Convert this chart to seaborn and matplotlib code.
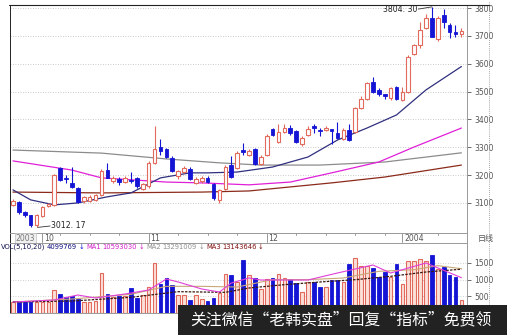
import numpy as np
import matplotlib
matplotlib.use("Agg")
import matplotlib.pyplot as plt
from matplotlib.patches import Rectangle
from matplotlib.lines import Line2D
import seaborn as sns

# ---------------- data ----------------
opens = [3093, 3103, 3068, 3055, 3022, 3052, 3090, 3093, 3225, 3190,
         3172, 3154, 3106, 3108, 3112, 3128, 3218, 3180, 3185, 3175,
         3182, 3188, 3150, 3160, 3245, 3302, 3292, 3262, 3198, 3212,
         3222, 3172, 3178, 3190, 3168, 3110, 3150, 3235, 3225, 3290,
         3272, 3295, 3240, 3272, 3365, 3320, 3355, 3368, 3360, 3310,
         3345, 3375, 3362, 3362, 3365, 3350, 3330, 3362, 3355, 3442,
         3472, 3535, 3505, 3490, 3478, 3515, 3470, 3500, 3635, 3668,
         3730, 3765, 3688, 3775, 3740, 3715, 3708]
highs = [3115, 3108, 3070, 3058, 3062, 3090, 3100, 3205, 3228, 3200,
         3229, 3156, 3126, 3128, 3132, 3222, 3245, 3195, 3192, 3198,
         3212, 3192, 3172, 3250, 3375, 3330, 3298, 3268, 3220, 3232,
         3228, 3192, 3198, 3195, 3172, 3150, 3238, 3268, 3285, 3315,
         3292, 3298, 3272, 3348, 3370, 3385, 3385, 3380, 3362, 3340,
         3375, 3385, 3370, 3375, 3366, 3392, 3368, 3385, 3445, 3485,
         3535, 3552, 3512, 3492, 3516, 3520, 3515, 3630, 3672, 3750,
         3780, 3804.30, 3770, 3798, 3745, 3740, 3728]
lows = [3088, 3062, 3050, 3015, 3012.17, 3048, 3085, 3088, 3180, 3172,
        3152, 3100, 3100, 3102, 3106, 3125, 3188, 3172, 3165, 3170,
        3172, 3155, 3145, 3155, 3240, 3272, 3260, 3210, 3185, 3208,
        3182, 3168, 3170, 3170, 3112, 3100, 3145, 3188, 3222, 3272,
        3268, 3236, 3236, 3268, 3342, 3315, 3350, 3345, 3315, 3305,
        3340, 3352, 3340, 3358, 3310, 3328, 3325, 3322, 3350, 3438,
        3468, 3495, 3485, 3475, 3470, 3470, 3465, 3495, 3630, 3655,
        3725, 3695, 3683, 3730, 3693, 3697, 3695]
closes = [3108, 3068, 3057, 3020, 3058, 3085, 3095, 3200, 3183, 3185,
          3158, 3104, 3120, 3122, 3128, 3215, 3190, 3188, 3175, 3190,
          3178, 3160, 3168, 3245, 3295, 3285, 3265, 3215, 3215, 3225,
          3185, 3185, 3190, 3175, 3118, 3145, 3230, 3192, 3280, 3284,
          3288, 3240, 3265, 3342, 3345, 3355, 3368, 3352, 3320, 3335,
          3365, 3368, 3358, 3368, 3360, 3332, 3362, 3325, 3440, 3475,
          3530, 3500, 3492, 3483, 3512, 3475, 3500, 3625, 3668, 3720,
          3765, 3697, 3765, 3750, 3713, 3708, 3716]
# volume in units of 10,000 shares
volumes = [330, 330, 330, 330, 340, 340, 340, 690, 570, 480,
           510, 420, 330, 330, 360, 1200, 570, 480, 510, 510,
           750, 450, 540, 780, 1500, 870, 1050, 840, 540, 540,
           390, 540, 420, 360, 450, 600, 1170, 1140, 930, 1590,
           1140, 1050, 720, 1020, 1050, 1170, 1050, 1020, 900, 630,
           930, 930, 780, 780, 990, 990, 930, 1470, 1650, 1410,
           1410, 1350, 1080, 1230, 1080, 1470, 870, 1560, 1560, 1620,
           1560, 1740, 1320, 1380, 1140, 1080, 390]

# price moving-average lines (candle index, value)
ma1_idx = [0, 3, 7, 11, 16, 20, 25, 30, 33, 38, 44, 50, 55, 60, 65, 70, 76]
ma1_val = [3147, 3111, 3093, 3100, 3122, 3136, 3190, 3208, 3208, 3211, 3229, 3265, 3326, 3369, 3416, 3506, 3590]
ma2_idx = [0, 10, 15, 26, 32, 40, 47, 54, 62, 68, 76]
ma2_val = [3251, 3218, 3190, 3175, 3172, 3165, 3175, 3208, 3247, 3301, 3369]
ma3_idx = [0, 15, 26, 35, 42, 52, 63, 76]
ma3_val = [3290, 3279, 3258, 3244, 3236, 3236, 3247, 3280]
ma4_idx = [0, 15, 32, 40, 54, 63, 76]
ma4_val = [3139, 3136, 3139, 3143, 3172, 3193, 3236]

# volume moving-average lines (candle index, value)
vma1_idx = [0, 7, 11, 14, 19, 23, 26, 28, 32, 35, 37, 40, 42, 50, 55, 61, 64, 70, 76]
vma1_val = [330, 390, 540, 450, 570, 690, 1020, 930, 720, 630, 900, 1050, 990, 990, 1200, 1440, 1200, 1500, 1059]
vma2_idx = [0, 10, 20, 26, 32, 38, 44, 50, 56, 62, 68, 72, 76]
vma2_val = [330, 420, 560, 800, 800, 780, 1000, 1000, 1050, 1250, 1300, 1420, 1329]
vma3_idx = [0, 10, 20, 28, 36, 40, 46, 52, 58, 64, 70, 76]
vma3_val = [330, 360, 470, 640, 620, 750, 850, 930, 1000, 1100, 1230, 1314]

price_ticks = [3100, 3200, 3300, 3400, 3500, 3600, 3700, 3800]
vol_ticks = [500, 1000, 1500]
month_pos = [5, 23, 43, 66]
month_labels = ["10", "11", "12", "2004"]
week_pos = [8, 13, 18, 28, 33, 38, 48, 53, 58, 63, 72]

header_parts = [("VOL(5,10,20)", "#101050"), ("4099769", "#101080"), ("↓", "#1414d4"),
                ("MA1", "#d020c8"), ("10593030", "#d020c8"), ("↓", "#d020c8"),
                ("MA2", "#909090"), ("13291009", "#909090"), ("↓", "#909090"),
                ("MA3", "#801010"), ("13143646", "#801010"), ("↓", "#801010")]

# ---------------- drawing ----------------
sns.set_theme(style="white")
plt.rcParams["font.family"] = ["DejaVu Sans", "Noto Sans CJK SC"]

W, H = 507, 335
fig = plt.figure(figsize=(W / 100, H / 100), dpi=100)
fig.patch.set_facecolor("white")


def box(l, t, r, b):
    return [l / W, 1 - b / H, (r - l) / W, (b - t) / H]


def fx(px):
    return px / W


def fy(py):
    return 1 - py / H


ax = fig.add_axes(box(10, 5, 467, 233))
axd = fig.add_axes(box(10, 233, 467, 243), sharex=ax)
axv = fig.add_axes(box(10, 243, 467, 313), sharex=ax)

RED = "#e26a5c"
BLUE = "#1414d4"

o = np.array(opens, float)
h = np.array(highs, float)
lo = np.array(lows, float)
c = np.array(closes, float)
v = np.array(volumes, float)
n = len(c)
idx = np.arange(n)
up = c >= o
cols = np.where(up, RED, BLUE)

# grid
for yv in price_ticks:
    ax.axhline(yv, color="#b8b8b8", lw=0.6, ls=(0, (1, 2)), zorder=0)
for yv in vol_ticks:
    axv.axhline(yv, color="#c0c0c0", lw=0.6, ls=(0, (1, 2)), zorder=0)

# MA lines
sns.lineplot(x=ma3_idx, y=ma3_val, ax=ax, color="#8c8c8c", lw=0.9, legend=False, zorder=1)
sns.lineplot(x=ma4_idx, y=ma4_val, ax=ax, color="#8b2a1a", lw=0.9, legend=False, zorder=1)
sns.lineplot(x=ma2_idx, y=ma2_val, ax=ax, color="#e020d8", lw=0.9, legend=False, zorder=1)
sns.lineplot(x=ma1_idx, y=ma1_val, ax=ax, color="#303080", lw=0.9, legend=False, zorder=1)

# candles
ax.vlines(idx, lo, h, colors=cols, lw=0.8, zorder=2)
bb = np.minimum(o, c)
bh = np.maximum(np.abs(c - o), 3.0)
ax.bar(idx[up], bh[up], bottom=bb[up], width=0.62, facecolor="white",
       edgecolor=RED, lw=0.8, zorder=3)
ax.bar(idx[~up], bh[~up], bottom=bb[~up], width=0.62, facecolor=BLUE,
       edgecolor=BLUE, lw=0.6, zorder=3)

# extreme labels
imax = int(np.argmax(h))
imin = int(np.argmin(lo))
ax.plot([imax - 2.3, imax], [h[imax] - 8, h[imax]], color="#333333", lw=0.6)
ax.text(imax - 2.4, h[imax] - 9, f"{h[imax]:.2f}".replace(".", ". "), fontsize=5.6,
        ha="right", va="center", color="#222222")
ax.plot([imin + 0.2, imin + 2.3], [lo[imin], lo[imin] + 5], color="#333333", lw=0.6)
ax.text(imin + 2.5, lo[imin] + 6, f"{lo[imin]:.2f}".replace(".", ". "), fontsize=5.6,
        ha="left", va="center", color="#222222")

ax.set_xlim(-0.5, 76.95)
ax.set_ylim(2992, 3811)
ax.yaxis.tick_right()
ax.set_yticks(price_ticks)
ax.set_yticklabels([str(t) for t in price_ticks])
ax.tick_params(axis="y", labelsize=5.5, colors="#555555", length=3, width=0.6,
               pad=2, right=True, direction="out")
ax.tick_params(axis="x", bottom=False, labelbottom=False)
ax.set_xlabel("")
ax.set_ylabel("")

# volume
axv.bar(idx[up], v[up], width=0.62, facecolor="#fbe0d8", edgecolor=RED, lw=0.8, zorder=2)
axv.bar(idx[~up], v[~up], width=0.62, facecolor=BLUE, edgecolor=BLUE, lw=0.6, zorder=2)
sns.lineplot(x=vma2_idx, y=vma2_val, ax=axv, color="#c8a878", lw=0.8, legend=False, zorder=3)
sns.lineplot(x=vma3_idx, y=vma3_val, ax=axv, color="#3a1a10", lw=0.9, ls=(0, (2, 1)),
             legend=False, zorder=3)
sns.lineplot(x=vma1_idx, y=vma1_val, ax=axv, color="#e040d8", lw=0.8, legend=False, zorder=3)
axv.set_ylim(0, 2100)
axv.yaxis.tick_right()
axv.set_yticks(vol_ticks)
axv.set_yticklabels([str(t) for t in vol_ticks])
axv.tick_params(axis="y", labelsize=5.5, colors="#555555", length=3, width=0.6,
                pad=2, right=True, direction="out")
axv.tick_params(axis="x", bottom=False, labelbottom=False)
axv.set_xlabel("")
axv.set_ylabel("")

# date strip
axd.set_ylim(0, 1)
axd.set_yticks([])
axd.tick_params(axis="x", bottom=False, labelbottom=False)
for p in week_pos:
    axd.plot([p, p], [0.78, 1.0], color="#888888", lw=0.6)
for p, lab in zip(month_pos, month_labels):
    axd.plot([p, p], [0.1, 1.0], color="#888888", lw=0.6)
    axd.text(p + 0.3, 0.45, lab, fontsize=5.6, color="#555555", ha="left", va="center")
axd.text(0.5, 0.45, "2003", fontsize=5.6, color="#777777", ha="left", va="center",
         bbox=dict(boxstyle="square,pad=0.1", fc="#f0f0f0", ec="#c0c0c0", lw=0.5))

for a in (ax, axd, axv):
    for s in a.spines.values():
        s.set_color("#999999")
        s.set_linewidth(0.7)
ax.spines["left"].set_color("#222222")
ax.spines["top"].set_color("#222222")
axd.spines["left"].set_color("#222222")
axv.spines["left"].set_color("#222222")

fig.text(fx(478), fy(238), "日线", fontsize=5.8, color="#555555", ha="left", va="center",
         family=["Noto Sans CJK SC", "DejaVu Sans"])

# outer dotted frame on the right
fig.add_artist(Line2D([fx(489), fx(489)], [fy(2), fy(313)], color="#888888", lw=0.6,
                      ls=(0, (1, 1.5))))
fig.add_artist(Line2D([fx(9), fx(489)], [fy(5), fy(5)], color="#222222", lw=0.8))

# volume header, laid out piece by piece
fig.canvas.draw()
renderer = fig.canvas.get_renderer()
hx = 1.0
hy = fy(247)
for t, col in header_parts:
    txt = fig.text(fx(hx), hy, t, fontsize=4.9, color=col, ha="left", va="center",
                   family=["DejaVu Sans"])
    bb_ = txt.get_window_extent(renderer=renderer)
    hx = bb_.x1 + (1.0 if t == "↓" or t.startswith("MA") else 1.6)
    if t == "↓":
        hx += 1.5

# watermark bar
fig.add_artist(Rectangle((fx(178), 0), 1 - fx(178), 30 / H, transform=fig.transFigure,
                         facecolor="#222222", edgecolor="none", zorder=10))
fig.text(fx(341), fy(320), "关注微信“老韩实盘”回复“指标”免费领", fontsize=11.4,
         color="white", ha="center", va="center", zorder=11,
         family=["Noto Sans CJK SC", "DejaVu Sans"])

fig.savefig("out.png", dpi=100, facecolor="white")
